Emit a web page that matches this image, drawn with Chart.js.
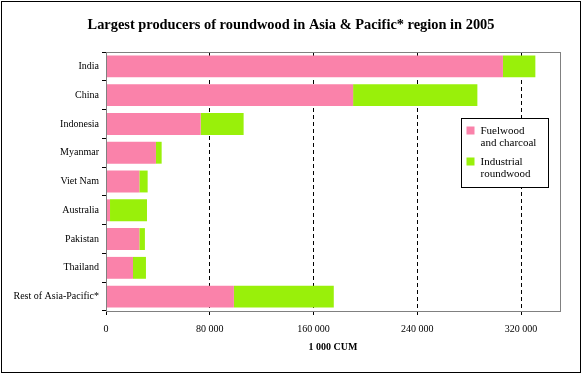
<!DOCTYPE html>
<html>
<head>
<meta charset="utf-8">
<script src="https://cdn.jsdelivr.net/npm/chart.js@4/dist/chart.umd.min.js"></script>
<style>
  html, body { margin: 0; padding: 0; background: #fff; }
  #wrap { width: 582px; height: 374px; position: relative; }
</style>
</head>
<body>
<div id="wrap"><canvas id="c" width="582" height="374"></canvas></div>
<script>
const titleText = 'Largest producers of roundwood in Asia & Pacific* region in 2005';
const xAxisTitle = '1 000 CUM';
const categories = ['India', 'China', 'Indonesia', 'Myanmar', 'Viet Nam', 'Australia', 'Pakistan', 'Thailand', 'Rest of Asia-Pacific*'];
const fuelwood = [306000, 190500, 73000, 38500, 25700, 3100, 25700, 20800, 98600];
const industrial = [25000, 95800, 33100, 4400, 6400, 28500, 4300, 10000, 77000];
const seriesNames = [['Fuelwood', 'and charcoal'], ['Industrial', 'roundwood']];
const xTicks = [0, 80000, 160000, 240000, 320000];

const PINK = '#FA82AA';
const GREEN = '#99F00A';
const SERIF = '"Liberation Serif", "Times New Roman", serif';

const fmt = v => String(v).replace(/\B(?=(\d{3})+(?!\d))/g, ' ');

const framePlugin = {
  id: 'frame',
  beforeDraw(chart) {
    const ctx = chart.ctx;
    ctx.save();
    ctx.fillStyle = '#fff';
    ctx.fillRect(0, 0, chart.width, chart.height);
    // title centred on the whole picture
    ctx.fillStyle = '#000';
    ctx.font = 'bold 14.4px ' + SERIF;
    ctx.textAlign = 'center';
    ctx.textBaseline = 'middle';
    ctx.fillText(titleText, chart.width / 2, 25);
    ctx.restore();
  },
  afterDraw(chart) {
    const ctx = chart.ctx;
    const a = chart.chartArea;
    ctx.save();
    // plot area border
    ctx.strokeStyle = '#808080';
    ctx.lineWidth = 1;
    ctx.strokeRect(Math.round(a.left) + 0.5, Math.round(a.top) + 0.5, Math.round(a.right - a.left), Math.round(a.bottom - a.top));
    // outer border
    ctx.strokeStyle = '#000';
    ctx.strokeRect(1.5, 1.5, chart.width - 3, chart.height - 3);
    // legend
    const bx = Math.round(a.right) - 99 + 0.5, by = Math.round(a.top) + 66 + 0.5, bw = 87, bh = 69;
    ctx.fillStyle = '#fff';
    ctx.fillRect(bx, by, bw, bh);
    ctx.strokeStyle = '#000';
    ctx.strokeRect(bx, by, bw, bh);
    ctx.font = '11px ' + SERIF;
    ctx.textBaseline = 'middle';
    ctx.textAlign = 'left';
    chart.data.datasets.forEach((ds, i) => {
      const y0 = by + 8 + i * 31;
      ctx.fillStyle = ds.backgroundColor;
      ctx.fillRect(bx + 5, y0, 8, 8);
      ctx.fillStyle = '#000';
      const lines = seriesNames[i];
      lines.forEach((t, j) => ctx.fillText(t, bx + 19, y0 + 4.5 + j * 12.5));
    });
    ctx.restore();
  }
};

new Chart(document.getElementById('c'), {
  type: 'bar',
  data: {
    labels: categories,
    datasets: [
      { label: seriesNames[0].join(' '), data: fuelwood, backgroundColor: PINK, borderWidth: 0, categoryPercentage: 0.76, barPercentage: 1 },
      { label: seriesNames[1].join(' '), data: industrial, backgroundColor: GREEN, borderWidth: 0, categoryPercentage: 0.76, barPercentage: 1 }
    ]
  },
  options: {
    indexAxis: 'y',
    responsive: false,
    animation: false,
    devicePixelRatio: 1,
    layout: { padding: { left: 0, right: 22, top: 52, bottom: 0 } },
    plugins: {
      legend: { display: false },
      tooltip: { enabled: false },
      title: { display: false }
    },
    scales: {
      x: {
        stacked: true,
        min: 0,
        max: 350000,
        afterBuildTicks(scale) { scale.ticks = xTicks.map(v => ({ value: v })); },
        afterFit(scale) { scale.height = 63; },
        border: { display: false, dash: [4, 3] },
        grid: {
          color: ctx => (ctx.tick && ctx.tick.value === 0) ? 'rgba(0,0,0,0)' : '#000',
          tickColor: '#000',
          tickBorderDash: [],
          tickLength: 4,
          lineWidth: 1
        },
        ticks: {
          color: '#000',
          font: { family: SERIF, size: 10 },
          padding: 8,
          maxRotation: 0,
          callback: v => fmt(v)
        },
        title: {
          display: true,
          text: xAxisTitle,
          color: '#000',
          font: { family: SERIF, size: 10, weight: 'bold', lineHeight: 1.2 },
          padding: { top: 4, bottom: 21 }
        }
      },
      y: {
        stacked: true,
        afterFit(scale) { scale.width = 106; },
        border: { display: false },
        grid: {
          offset: true,
          drawOnChartArea: false,
          tickLength: 4,
          color: '#000',
          tickColor: '#000'
        },
        ticks: {
          color: '#000',
          font: { family: SERIF, size: 10 },
          padding: 3
        }
      }
    }
  },
  plugins: [framePlugin]
});
</script>
</body>
</html>
